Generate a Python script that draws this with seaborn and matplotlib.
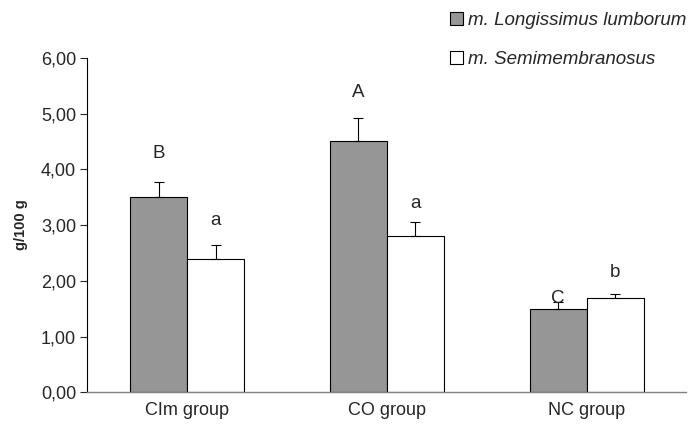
import numpy as np
import pandas as pd
import seaborn as sns
import matplotlib.pyplot as plt

# ------------------------------------------------------------
# Data
# ------------------------------------------------------------
groups = ["CIm group", "CO group", "NC group"]
muscles = ["m. Longissimus lumborum", "m. Semimembranosus"]
ll_values = [3.50, 4.50, 1.50]
sm_values = [2.40, 2.80, 1.70]
ll_err = [0.28, 0.42, 0.12]
sm_err = [0.25, 0.25, 0.07]
ll_letters = ["B", "A", "C"]
sm_letters = ["a", "a", "b"]
# heights (in g/100 g) where the significance letters sit
ll_letter_y = [4.29, 5.37, 1.69]
sm_letter_y = [3.09, 3.39, 2.14]

df = pd.DataFrame({
    "group": groups * 2,
    "muscle": [muscles[0]] * 3 + [muscles[1]] * 3,
    "value": ll_values + sm_values,
})

sns.set_style("white")
plt.rcParams["font.family"] = ["Liberation Sans", "DejaVu Sans"]

fig, ax = plt.subplots(figsize=(6.92, 4.32), dpi=100)
fig.subplots_adjust(left=0.126, right=0.992, bottom=0.092, top=0.866)

sns.barplot(data=df, x="group", y="value", hue="muscle", order=groups,
            hue_order=muscles, palette=["#969696", "#ffffff"],
            edgecolor="black", linewidth=0.8, width=0.57, errorbar=None,
            saturation=1, ax=ax)

# error bars + letters on top of each bar
errs = [ll_err, sm_err]
letters = [ll_letters, sm_letters]
letter_y = [ll_letter_y, sm_letter_y]
bar_sets = list(ax.containers)[:2]
for k, cont in enumerate(bar_sets):
    for i, bar in enumerate(cont.patches):
        xc = bar.get_x() + bar.get_width() / 2
        h = bar.get_height()
        ax.errorbar(xc, h, yerr=[[0], [errs[k][i]]], fmt="none",
                    ecolor="black", elinewidth=0.8, capsize=3.6, capthick=0.8)
        ax.text(xc, letter_y[k][i], letters[k][i], ha="center",
                va="center", fontsize=13.5)

ax.set_xlim(-0.5, 2.5)
ax.set_ylim(0, 6)
ax.set_yticks(np.arange(0, 6.01, 1))
ax.set_yticklabels([f"{v:.2f}".replace(".", ",") for v in np.arange(0, 6.01, 1)],
                   fontsize=13)
ax.tick_params(axis="y", direction="out", length=5, width=0.8, left=True, pad=3)
ax.tick_params(axis="x", length=0, labelsize=13, pad=7)
ax.set_xlabel("")
ax.set_ylabel("g/100 g", fontsize=10.5, fontweight="bold", labelpad=9)

sns.despine(ax=ax)
ax.spines["left"].set_color("black")
ax.spines["left"].set_linewidth(0.8)
ax.spines["bottom"].set_color("#808080")
ax.spines["bottom"].set_linewidth(1.0)

leg = ax.legend(loc="lower right", bbox_to_anchor=(1.012, 0.947), frameon=False,
                fontsize=13.5, handlelength=0.7, handleheight=0.7,
                handletextpad=0.25, labelspacing=1.15, borderaxespad=0)
for t in leg.get_texts():
    t.set_fontstyle("italic")

fig.savefig("out.png", dpi=100)
